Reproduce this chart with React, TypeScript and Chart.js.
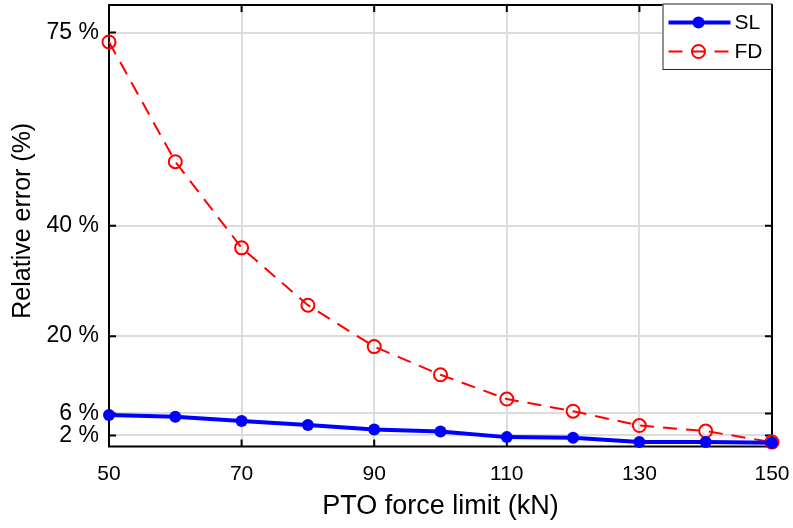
import { useEffect, useRef } from 'react';
import { Chart, registerables } from 'chart.js';

Chart.register(...registerables);

const forceLimits = [50, 60, 70, 80, 90, 100, 110, 120, 130, 140, 150];
const slError = [5.7, 5.4, 4.6, 3.9, 3.1, 2.7, 1.7, 1.6, 0.8, 0.8, 0.7];
const fdError = [73.3, 51.6, 36.0, 25.6, 18.1, 13.0, 8.6, 6.4, 3.8, 2.8, 0.8];
const yTicks = [2, 6, 20, 40, 75];
const xTicks = [50, 70, 90, 110, 130, 150];
const seriesNames = ['SL', 'FD'];
const xTitle = 'PTO force limit (kN)';
const yTitle = 'Relative error (%)';

const FONT = '"Liberation Sans", Arial, Helvetica, sans-serif';
const BLUE = '#0000ff';
const RED = '#ff0000';
const FD_DASH = [14, 9];

export default function App() {
  const ref = useRef<HTMLCanvasElement>(null);

  useEffect(() => {
    document.body.style.margin = '0';
    const canvas = ref.current;
    if (!canvas) return;

    const boxPlugin = {
      id: 'matlabBox',
      beforeDatasetsDraw(chart: any) {
        const { ctx, chartArea: a, scales } = chart;
        ctx.save();
        ctx.strokeStyle = '#000';
        ctx.lineWidth = 2;
        const tl = 7;
        ctx.beginPath();
        for (const v of yTicks) {
          const y = scales.y.getPixelForValue(v);
          ctx.moveTo(a.left, y);
          ctx.lineTo(a.left + tl, y);
          ctx.moveTo(a.right, y);
          ctx.lineTo(a.right - tl, y);
        }
        for (const v of xTicks) {
          const x = scales.x.getPixelForValue(v);
          ctx.moveTo(x, a.bottom);
          ctx.lineTo(x, a.bottom - tl);
          ctx.moveTo(x, a.top);
          ctx.lineTo(x, a.top + tl);
        }
        ctx.stroke();
        ctx.strokeRect(a.left, a.top, a.right - a.left, a.bottom - a.top);
        ctx.restore();
      },
      afterDraw(chart: any) {
        const { ctx, chartArea: a } = chart;
        ctx.save();

        // y-axis title
        ctx.fillStyle = '#000';
        ctx.font = `25px ${FONT}`;
        ctx.textAlign = 'center';
        ctx.textBaseline = 'middle';
        ctx.translate(23, (a.top + a.bottom) / 2 - 5);
        ctx.rotate(-Math.PI / 2);
        ctx.fillText(yTitle, 0, 0);
        ctx.setTransform(1, 0, 0, 1, 0, 0);

        // legend
        const w = 108.5;
        const h = 65.5;
        const left = a.right - w - 1;
        const top = a.top - 1.5;
        ctx.fillStyle = '#fff';
        ctx.fillRect(left, top, w, h);
        ctx.strokeStyle = '#262626';
        ctx.lineWidth = 1;
        ctx.strokeRect(left + 0.5, top + 0.5, w, h);

        const rows = [top + 19, top + 48];
        const x0 = left + 6;
        const x1 = left + 68;
        const xm = left + 36;

        ctx.strokeStyle = BLUE;
        ctx.lineWidth = 4;
        ctx.beginPath();
        ctx.moveTo(x0, rows[0]);
        ctx.lineTo(x1, rows[0]);
        ctx.stroke();
        ctx.fillStyle = BLUE;
        ctx.beginPath();
        ctx.arc(xm, rows[0], 6, 0, Math.PI * 2);
        ctx.fill();

        ctx.strokeStyle = RED;
        ctx.lineWidth = 2;
        ctx.setLineDash(FD_DASH);
        ctx.beginPath();
        ctx.moveTo(x0, rows[1]);
        ctx.lineTo(x1, rows[1]);
        ctx.stroke();
        ctx.setLineDash([]);
        ctx.beginPath();
        ctx.arc(xm, rows[1], 6.5, 0, Math.PI * 2);
        ctx.stroke();

        ctx.fillStyle = '#000';
        ctx.font = `21px ${FONT}`;
        ctx.textBaseline = 'middle';
        ctx.textAlign = 'left';
        ctx.fillText(seriesNames[0], left + 72, rows[0] + 1);
        ctx.fillText(seriesNames[1], left + 72, rows[1] + 1);
        ctx.restore();
      },
    };

    const chart = new Chart(canvas, {
      type: 'line',
      data: {
        datasets: [
          {
            label: seriesNames[0],
            data: forceLimits.map((x, i) => ({ x, y: slError[i] })),
            borderColor: BLUE,
            backgroundColor: BLUE,
            borderWidth: 4,
            pointRadius: 6,
            pointBorderWidth: 0,
            pointBackgroundColor: BLUE,
            tension: 0,
            clip: false as any,
          },
          {
            label: seriesNames[1],
            data: forceLimits.map((x, i) => ({ x, y: fdError[i] })),
            borderColor: RED,
            backgroundColor: 'rgba(0,0,0,0)',
            borderWidth: 2,
            borderDash: FD_DASH,
            pointRadius: 6.5,
            pointBorderWidth: 2,
            pointBorderColor: RED,
            pointBackgroundColor: 'rgba(0,0,0,0)',
            tension: 0,
            clip: false as any,
          },
        ],
      },
      options: {
        animation: false,
        responsive: false,
        devicePixelRatio: 1,
        layout: { autoPadding: false, padding: { top: 5, right: 21, left: 0, bottom: 0 } },
        plugins: { legend: { display: false }, tooltip: { enabled: false } },
        scales: {
          x: {
            type: 'linear',
            min: 50,
            max: 150,
            afterBuildTicks: (s: any) => {
              s.ticks = xTicks.map((v) => ({ value: v }));
            },
            afterFit: (s: any) => {
              s.height = 81.5;
              s.paddingLeft = 0;
              s.paddingRight = 0;
            },
            grid: { color: '#dcdcdc', lineWidth: 2, drawTicks: false },
            border: { display: false },
            ticks: {
              color: '#000',
              padding: 15,
              maxRotation: 0,
              font: { family: FONT, size: 21 },
            },
            title: {
              display: true,
              text: xTitle,
              color: '#000',
              font: { family: FONT, size: 27, lineHeight: 1 },
              padding: { top: 0, bottom: 8 },
            },
          },
          y: {
            type: 'linear',
            min: 0,
            max: 80,
            afterBuildTicks: (s: any) => {
              s.ticks = yTicks.map((v) => ({ value: v }));
            },
            afterFit: (s: any) => {
              s.width = 109;
              s.paddingTop = 0;
              s.paddingBottom = 0;
            },
            grid: { color: '#dcdcdc', lineWidth: 2, drawTicks: false },
            border: { display: false },
            ticks: {
              color: '#000',
              padding: 10,
              font: { family: FONT, size: 23 },
              callback: (v: any) => `${v} %`,
            },
            title: { display: false, text: yTitle },
          },
        },
      },
      plugins: [boxPlugin],
    });

    return () => chart.destroy();
  }, []);

  return (
    <div style={{ width: 793, height: 528 }}>
      <canvas ref={ref} width={793} height={528} style={{ display: 'block' }} />
    </div>
  );
}
